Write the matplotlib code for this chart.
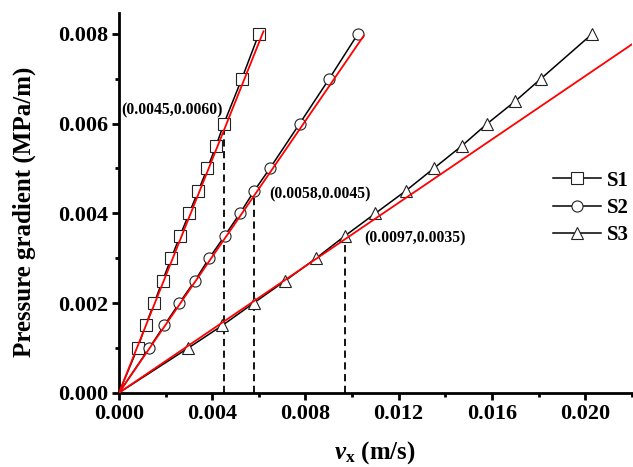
import matplotlib
matplotlib.use("Agg")
import matplotlib.pyplot as plt
from matplotlib.ticker import MultipleLocator, FormatStrFormatter

# data
s1_x = [0.0008, 0.00114, 0.00151, 0.00187, 0.00224, 0.00262, 0.00301, 0.0034,
        0.00379, 0.00416, 0.0045, 0.00527, 0.006]
s1_y = [0.001, 0.0015, 0.002, 0.0025, 0.003, 0.0035, 0.004, 0.0045,
        0.005, 0.0055, 0.006, 0.007, 0.008]

s2_x = [0.0013, 0.00194, 0.00259, 0.00326, 0.00387, 0.00454, 0.00519, 0.0058,
        0.00647, 0.00775, 0.00902, 0.01025]
s2_y = [0.001, 0.0015, 0.002, 0.0025, 0.003, 0.0035, 0.004, 0.0045,
        0.005, 0.006, 0.007, 0.008]

s3_x = [0.00298, 0.00443, 0.00578, 0.00714, 0.00846, 0.0097, 0.0110, 0.0123,
        0.0135, 0.0147, 0.0158, 0.0170, 0.0181, 0.0203]
s3_y = [0.001, 0.0015, 0.002, 0.0025, 0.003, 0.0035, 0.004, 0.0045,
        0.005, 0.0055, 0.006, 0.0065, 0.007, 0.008]

labels = ["S1", "S2", "S3"]
markers = ["s", "o", "^"]

# red linear fits through the origin
fit_k = [1.30, 0.758, 0.353]
fit_xend = [0.0062, 0.0105, 0.022]

# critical points marked with dashed lines
crit_x = [0.0045, 0.0058, 0.0097]
crit_y = [0.0060, 0.0045, 0.0035]
crit_text = ["(0.0045,0.0060)", "(0.0058,0.0045)", "(0.0097,0.0035)"]

plt.rcParams['font.family'] = ['Liberation Serif', 'DejaVu Serif']
plt.rcParams['font.weight'] = 'bold'
plt.rcParams['mathtext.fontset'] = 'custom'
plt.rcParams['mathtext.rm'] = 'Liberation Serif:bold'
plt.rcParams['mathtext.it'] = 'Liberation Serif:italic:bold'
plt.rcParams['mathtext.bf'] = 'Liberation Serif:bold'

fig = plt.figure(figsize=(6.33, 4.67), dpi=100)
ax = fig.add_axes([0.188, 0.159, 0.81, 0.8125])

series = [(s1_x, s1_y), (s2_x, s2_y), (s3_x, s3_y)]
for (xs, ys), lab, m in zip(series, labels, markers):
    ax.plot([0] + xs, [0] + ys, color='black', lw=1.1, marker=m,
            markersize=9 if m == '^' else 8, markerfacecolor='white',
            markeredgecolor='#222222', markeredgewidth=0.8,
            markevery=slice(1, None), label=lab, zorder=2)

for k, xe in zip(fit_k, fit_xend):
    ax.plot([0, xe], [0, k * xe], color='red', lw=1.3, zorder=3)

for cx, cy in zip(crit_x, crit_y):
    ax.plot([cx, cx], [0, cy], color='black', lw=1.3,
            linestyle=(0, (4, 2.5)), zorder=1)

ax.text(0.00445, 0.0063, crit_text[0], ha='right', va='center', fontsize=11.3)
ax.text(0.00646, 0.00442, crit_text[1], ha='left', va='center', fontsize=11.3)
ax.text(0.01052, 0.00344, crit_text[2], ha='left', va='center', fontsize=11.3)

ax.set_xlim(0, 0.022)
ax.set_ylim(0, 0.00846)
ax.xaxis.set_major_locator(MultipleLocator(0.004))
ax.xaxis.set_minor_locator(MultipleLocator(0.002))
ax.yaxis.set_major_locator(MultipleLocator(0.002))
ax.yaxis.set_minor_locator(MultipleLocator(0.001))
ax.xaxis.set_major_formatter(FormatStrFormatter('%.3f'))
ax.yaxis.set_major_formatter(FormatStrFormatter('%.3f'))

for side in ['top', 'right']:
    ax.spines[side].set_visible(False)
for side in ['left', 'bottom']:
    ax.spines[side].set_linewidth(2)
ax.tick_params(which='major', direction='out', length=5, width=2,
               labelsize=16, pad=3)
ax.tick_params(which='minor', direction='out', length=3, width=2)

ax.set_xlabel(r'$v_{\mathbf{x}}$ (m/s)', fontsize=18, fontweight='bold', labelpad=11)
ax.set_ylabel('Pressure gradient (MPa/m)', fontsize=18, fontweight='bold')
ax.yaxis.set_label_coords(-0.162, 0.476)

ax.legend(loc='center left', bbox_to_anchor=(0.846, 0.487), frameon=False,
          fontsize=15, handlelength=2.3, handletextpad=0.3, labelspacing=0.35,
          borderpad=0, borderaxespad=0)

fig.savefig('out.png', dpi=100)
